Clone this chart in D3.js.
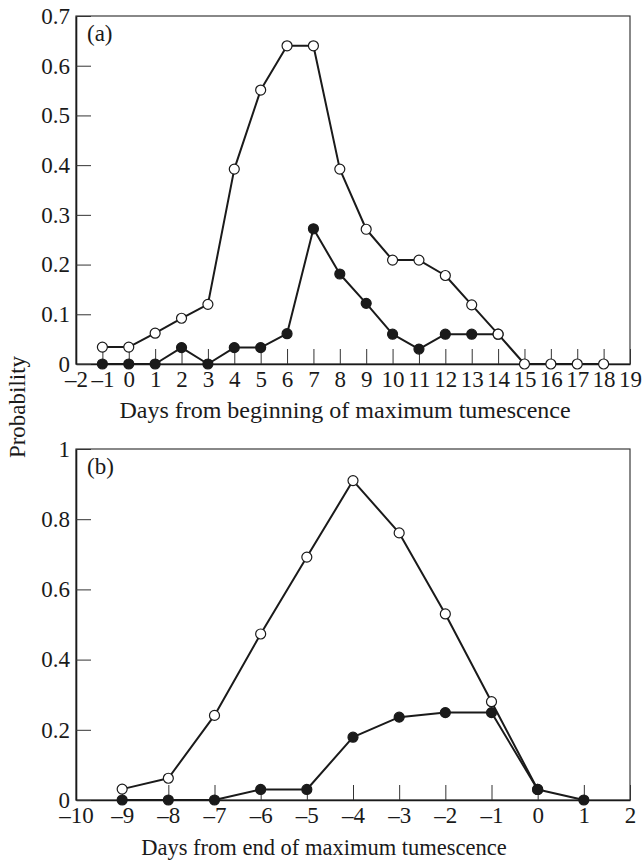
<!DOCTYPE html>
<html>
<head>
<meta charset="utf-8">
<script src="https://cdn.jsdelivr.net/npm/d3@7"></script>
<style>
  html, body { margin: 0; padding: 0; background: #fff; }
  svg text { font-family: "Liberation Serif", "DejaVu Serif", "Noto Serif", serif; fill: #1a1a1a; }
</style>
</head>
<body>
<svg id="chart" width="643" height="861"></svg>
<script>
// ---------- Data ----------
// Panel (a): days from beginning of maximum tumescence
const daysA = [-1, 0, 1, 2, 3, 4, 5, 6, 7, 8, 9, 10, 11, 12, 13, 14, 15, 16, 17, 18];
const openA = [0.034, 0.034, 0.062, 0.092, 0.120, 0.392, 0.551, 0.640, 0.640, 0.392, 0.271, 0.209, 0.209, 0.178, 0.119, 0.060, 0, 0, 0, 0];
const daysFilledA = [-1, 0, 1, 2, 3, 4, 5, 6, 7, 8, 9, 10, 11, 12, 13, 14];
const filledA = [0, 0, 0, 0.033, 0, 0.033, 0.033, 0.061, 0.272, 0.181, 0.122, 0.060, 0.030, 0.060, 0.060, 0.060];
const xTicksA = [-2, -1, 0, 1, 2, 3, 4, 5, 6, 7, 8, 9, 10, 11, 12, 13, 14, 15, 16, 17, 18, 19];
const yTicksA = [0, 0.1, 0.2, 0.3, 0.4, 0.5, 0.6, 0.7];

// Panel (b): days from end of maximum tumescence
const daysOpenB = [-9, -8, -7, -6, -5, -4, -3, -2, -1, 0];
const openB = [0.031, 0.062, 0.241, 0.473, 0.692, 0.910, 0.761, 0.530, 0.280, 0.030];
const daysFilledB = [-9, -8, -7, -6, -5, -4, -3, -2, -1, 0, 1];
const filledB = [0, 0, 0, 0.030, 0.030, 0.179, 0.236, 0.249, 0.249, 0.030, 0];
const xTicksB = [-10, -9, -8, -7, -6, -5, -4, -3, -2, -1, 0, 1, 2];
const yTicksB = [0, 0.2, 0.4, 0.6, 0.8, 1];

const titleA = "Days from beginning of maximum tumescence";
const titleB = "Days from end of maximum tumescence";
const yTitle = "Probability";

// ---------- Drawing ----------
const FONT = '"Liberation Serif", "DejaVu Serif", "Noto Serif", serif';
const svg = d3.select("#chart");
const INK = "#1a1a1a";
const fmtX = d => d < 0 ? "\u2013" + Math.abs(d) : String(d);
const fmtY = d => d === 0 ? "0" : (d === 1 ? "1" : d3.format(".1f")(d));

function panel(cfg) {
  const x = d3.scaleLinear().domain(cfg.xDomain).range([cfg.left, cfg.right]);
  const y = d3.scaleLinear().domain(cfg.yDomain).range([cfg.bottom, cfg.top]);
  const g = svg.append("g");

  // frame (top/right)
  g.append("rect")
    .attr("x", cfg.left).attr("y", cfg.top)
    .attr("width", cfg.right - cfg.left).attr("height", cfg.bottom - cfg.top)
    .attr("fill", "none").attr("stroke", "#3a3a3a").attr("stroke-width", 1.2);

  // x axis
  const xa = g.append("g").attr("transform", `translate(0,${cfg.bottom})`)
    .call(d3.axisBottom(x).tickValues(cfg.xTicks).tickFormat(fmtX)
      .tickSize(-15).tickSizeOuter(0).tickPadding(7));
  xa.attr("font-family", FONT);
  xa.select(".domain").attr("stroke", INK).attr("stroke-width", 1.6);
  xa.selectAll(".tick line").attr("stroke", "#333").attr("stroke-width", 1);
  xa.selectAll(".tick text").attr("font-size", 23).attr("fill", INK);

  // y axis
  const ya = g.append("g").attr("transform", `translate(${cfg.left},0)`)
    .call(d3.axisLeft(y).tickValues(cfg.yTicks).tickFormat(fmtY)
      .tickSize(-15).tickSizeOuter(0).tickPadding(6));
  ya.attr("font-family", FONT);
  ya.select(".domain").attr("stroke", INK).attr("stroke-width", 1.6);
  ya.selectAll(".tick line").attr("stroke", "#333").attr("stroke-width", 1);
  ya.selectAll(".tick text").attr("font-size", 23).attr("fill", INK);

  const line = d3.line().x(d => x(d[0])).y(d => y(d[1]));

  function series(xs, ys, filled) {
    const pts = xs.map((d, i) => [d, ys[i]]);
    g.append("path").datum(pts).attr("d", line)
      .attr("fill", "none").attr("stroke", INK).attr("stroke-width", 2)
      .attr("stroke-linejoin", "round");
    g.selectAll(null).data(pts).enter().append("circle")
      .attr("cx", d => x(d[0])).attr("cy", d => y(d[1])).attr("r", 5)
      .attr("fill", filled ? INK : "#fff")
      .attr("stroke", INK).attr("stroke-width", 1.2);
  }
  cfg.order.forEach(s => series(s.xs, s.ys, s.filled));

  // panel label
  g.append("text").attr("x", cfg.left + 11).attr("y", cfg.top + cfg.labelDy)
    .attr("font-size", 23).text(cfg.label);

  // x title
  g.append("text").attr("x", cfg.titleX).attr("y", cfg.titleY)
    .attr("text-anchor", "middle").attr("font-size", cfg.titleSize).text(cfg.title);
}

panel({
  left: 76, right: 630, top: 16, bottom: 364,
  xDomain: [-2, 19], yDomain: [0, 0.7],
  xTicks: xTicksA, yTicks: yTicksA,
  order: [
    { xs: daysFilledA, ys: filledA, filled: true },
    { xs: daysA, ys: openA, filled: false }
  ],
  label: "(a)", labelDy: 25,
  title: titleA, titleX: 345, titleY: 418, titleSize: 24
});

panel({
  left: 76, right: 630, top: 449, bottom: 800,
  xDomain: [-10, 2], yDomain: [0, 1],
  xTicks: xTicksB, yTicks: yTicksB,
  order: [
    { xs: daysOpenB, ys: openB, filled: false },
    { xs: daysFilledB, ys: filledB, filled: true }
  ],
  label: "(b)", labelDy: 25,
  title: titleB, titleX: 324, titleY: 855, titleSize: 22.5
});

// shared y title
svg.append("text")
  .attr("transform", "translate(25,407) rotate(-90)")
  .attr("text-anchor", "middle").attr("font-size", 23).text(yTitle);
</script>
</body>
</html>
